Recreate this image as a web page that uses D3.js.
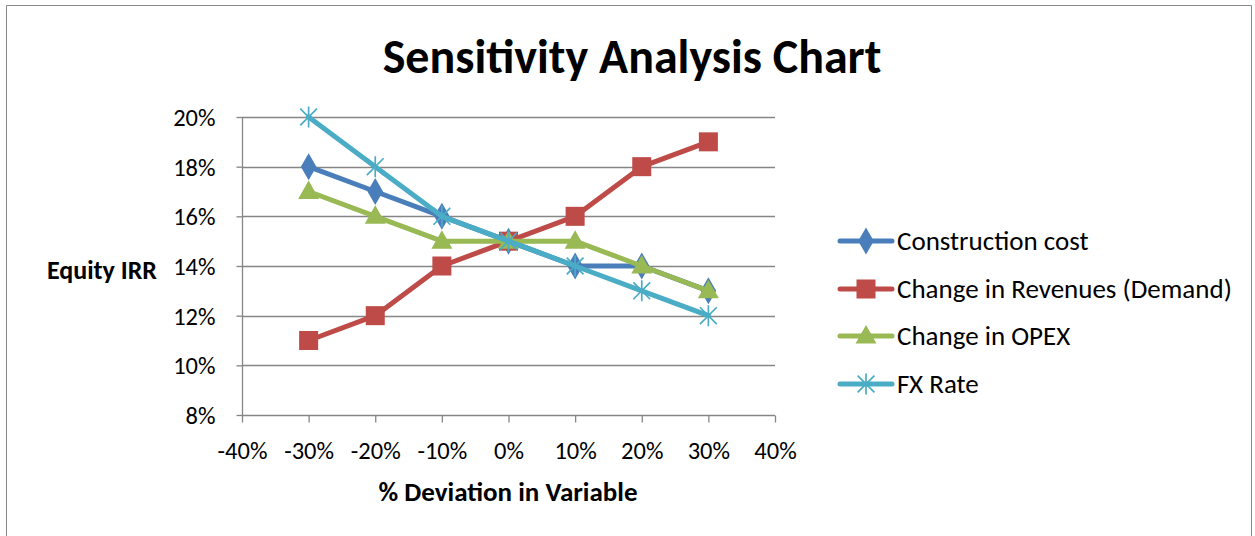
<!DOCTYPE html>
<html><head><meta charset="utf-8">
<script src="https://cdn.jsdelivr.net/npm/d3@7"></script>
<style>
body{margin:0;background:#fff;}
svg text{font-family:Carlito,"Liberation Sans Narrow","Open Sans",sans-serif;fill:#000;}
</style></head><body>
<svg id="c" width="1255" height="536"></svg>
<script>
const xValues = [-0.3,-0.2,-0.1,0,0.1,0.2,0.3];
const construction = [0.18,0.17,0.16,0.15,0.14,0.14,0.13];
const revenues = [0.11,0.12,0.14,0.15,0.16,0.18,0.19];
const opex = [0.17,0.16,0.15,0.15,0.15,0.14,0.13];
const fxRate = [0.20,0.18,0.16,0.15,0.14,0.13,0.12];
const seriesNames = ["Construction cost","Change in Revenues (Demand)","Change in OPEX","FX Rate"];
const xTicks = [-0.4,-0.3,-0.2,-0.1,0,0.1,0.2,0.3,0.4];
const yTicks = [0.08,0.10,0.12,0.14,0.16,0.18,0.20];

const series = [
  {name:seriesNames[0], values:construction, color:"#4a7ebb", marker:"diamond"},
  {name:seriesNames[1], values:revenues, color:"#be4b48", marker:"square"},
  {name:seriesNames[2], values:opex, color:"#98b954", marker:"triangle"},
  {name:seriesNames[3], values:fxRate, color:"#4bacc6", marker:"star"}
];

const svg = d3.select("#c");
svg.append("path").attr("d","M6.5,536 V5.5 H1251.5 V536").attr("fill","none").attr("stroke","#888").attr("stroke-width",1);

const x = d3.scaleLinear().domain([-0.4,0.4]).range([242,775]);
const y = d3.scaleLinear().domain([0.08,0.20]).range([415,117]);
const pct = v => Math.round(v*100) + "%";

svg.append("g").selectAll("line").data(yTicks.slice(1)).join("line")
  .attr("x1",242).attr("x2",775).attr("y1",d=>Math.round(y(d))+0.5).attr("y2",d=>Math.round(y(d))+0.5)
  .attr("stroke","#868686").attr("stroke-width",1.3);

const yAxis = svg.append("g").attr("transform","translate(242.5,0)")
  .call(d3.axisLeft(y).tickValues(yTicks).tickFormat(pct).tickSize(6).tickPadding(21));
const xAxis = svg.append("g").attr("transform","translate(0,415.5)")
  .call(d3.axisBottom(x).tickValues(xTicks).tickFormat(pct).tickSize(7).tickPadding(14));
[yAxis,xAxis].forEach(a=>{
  a.selectAll("path,line").attr("stroke","#868686").attr("stroke-width",1.3);
  a.selectAll("text").style("font-size","24.5px");
});
yAxis.selectAll("text").attr("dy","0.34em");
xAxis.selectAll("text").attr("y",43.5).attr("dy","0");
yAxis.select(".domain").attr("d","M0,"+y(0.20)+"V"+y(0.08));
xAxis.select(".domain").attr("d","M242,0H775");

svg.append("text").attr("x",632).attr("y",73).attr("text-anchor","middle")
  .style("font-size","48px").style("font-weight","bold").text("Sensitivity Analysis Chart");
svg.append("text").attr("x",102).attr("y",279).attr("text-anchor","middle")
  .style("font-size","26px").style("font-weight","bold").text("Equity IRR");
svg.append("text").attr("x",508).attr("y",501).attr("text-anchor","middle")
  .style("font-size","27px").style("font-weight","bold").text("% Deviation in Variable");

function drawMarker(g, type, color, cx, cy){
  if(type==="diamond"){
    g.append("path").attr("d",d3.symbol(d3.symbolDiamond,210)()).attr("transform",`translate(${cx},${cy})`).attr("fill",color);
  } else if(type==="square"){
    g.append("rect").attr("x",cx-9.5).attr("y",cy-9.5).attr("width",19).attr("height",19).attr("fill",color);
  } else if(type==="triangle"){
    g.append("path").attr("d",`M${cx},${cy-11}L${cx+10.5},${cy+7.5}L${cx-10.5},${cy+7.5}Z`).attr("fill",color);
  } else {
    const r=10.5;
    g.append("path").attr("d",`M${cx-r*0.8},${cy-r*0.8}L${cx+r*0.8},${cy+r*0.8}M${cx-r*0.8},${cy+r*0.8}L${cx+r*0.8},${cy-r*0.8}M${cx},${cy-r}L${cx},${cy+r}`)
      .attr("stroke",color).attr("stroke-width",1.7).attr("fill","none");
  }
}

const line = d3.line().x(d=>x(d[0])).y(d=>y(d[1]));
series.forEach(s=>{
  const g = svg.append("g");
  const pts = xValues.map((v,i)=>[v,s.values[i]]);
  g.append("path").attr("d",line(pts)).attr("fill","none").attr("stroke",s.color)
    .attr("stroke-width",5).attr("stroke-linejoin","round").attr("stroke-linecap","round");
  pts.forEach(p=>drawMarker(g,s.marker,s.color,x(p[0]),y(p[1])));
});

const legY = [241,289,336,384];
series.forEach((s,i)=>{
  const g = svg.append("g");
  const cy = legY[i];
  g.append("line").attr("x1",840).attr("x2",892).attr("y1",cy).attr("y2",cy)
    .attr("stroke",s.color).attr("stroke-width",5).attr("stroke-linecap","round");
  drawMarker(g,s.marker,s.color,866,cy);
  g.append("text").attr("x",897).attr("y",cy+9).style("font-size","27px").text(s.name);
});
</script></body></html>
